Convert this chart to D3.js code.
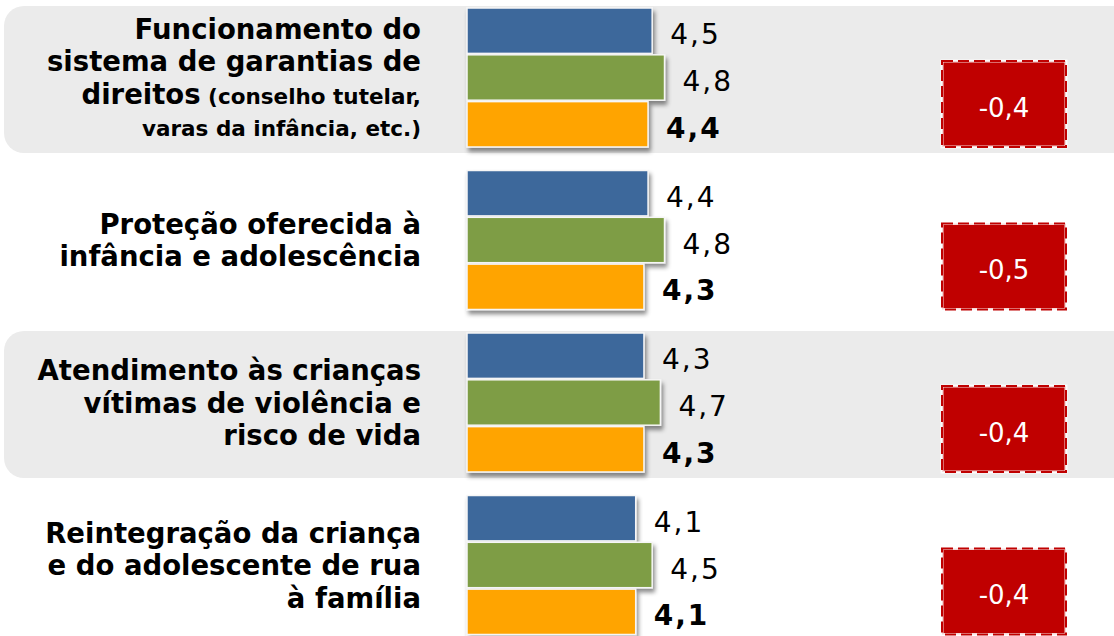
<!DOCTYPE html>
<html>
<head>
<meta charset="utf-8">
<script src="https://cdn.jsdelivr.net/npm/d3@7"></script>
<style>
  html, body { margin: 0; padding: 0; background: #ffffff; }
  svg { display: block; }
</style>
</head>
<body>
<svg id="chart" width="1114" height="636"></svg>
<script>
// Category labels, split into the lines in which they are printed
const labelLines = [
  ["Funcionamento do", "sistema de garantias de", "direitos"],
  ["Proteção oferecida à", "infância e adolescência"],
  ["Atendimento às crianças", "vítimas de violência e", "risco de vida"],
  ["Reintegração da criança", "e do adolescente de rua", "à família"]
];
// Smaller explanatory note that follows a label
const noteLines = [
  ["(conselho tutelar,", "varas da infância, etc.)"],
  [],
  [],
  []
];
const categories = ["garantias", "protecao", "atendimento", "reintegracao"];
const seriesKeys = ["serieA", "serieB", "serieC"];

const serieA = [4.5, 4.4, 4.3, 4.1];
const serieB = [4.8, 4.8, 4.7, 4.5];
const serieC = [4.4, 4.3, 4.3, 4.1];
const differences = [-0.4, -0.5, -0.4, -0.4];

const colors = { serieA: "#3D679B", serieB: "#7E9D44", serieC: "#FFA405" };

const rows = categories.map((c, i) => ({
  key: c,
  values: [
    { key: "serieA", value: serieA[i] },
    { key: "serieB", value: serieB[i] },
    { key: "serieC", value: serieC[i] }
  ],
  diff: differences[i],
  lines: labelLines[i],
  notes: noteLines[i]
}));

const svg = d3.select("#chart");
const W = 1114;

const defs = svg.append("defs");
const shadow = defs.append("filter").attr("id", "barShadow")
  .attr("x", "-10%").attr("y", "-10%").attr("width", "130%").attr("height", "140%");
shadow.append("feDropShadow")
  .attr("dx", 2).attr("dy", 4).attr("stdDeviation", 2.2)
  .attr("flood-color", "#000").attr("flood-opacity", 0.45);

// Scales
const groupH = 139, step = 162.5;
const y0 = d3.scaleBand()
  .domain(categories)
  .range([8, 8 + 3 * step + groupH])
  .paddingInner((step - groupH) / step)
  .paddingOuter(0);
const y1 = d3.scaleBand()
  .domain(seriesKeys)
  .range([0, y0.bandwidth()])
  .paddingInner(0.03);
const x = d3.scaleLinear().domain([0, 1]).range([467, 467 + 41.15]);

// Decimal comma, plain hyphen for negatives
const fmt = v => d3.format(".1f")(v).replace(".", ",").replace("\u2212", "-");

const groups = svg.selectAll("g.row")
  .data(rows)
  .join("g")
  .attr("class", "row")
  .attr("transform", d => `translate(0,${y0(d.key)})`);

// Alternate grey bands with rounded left corners
groups.filter((d, i) => i % 2 === 0)
  .append("rect")
  .attr("x", 4).attr("y", -2)
  .attr("width", W + 40).attr("height", groupH + 8)
  .attr("rx", 20).attr("ry", 20)
  .attr("fill", "#EBEBEB");

// Category labels
groups.each(function(d) {
  const g = d3.select(this);
  const lineH = 32.5;
  const total = d.lines.length + Math.max(0, d.notes.length - 1);
  const first = groupH / 2 - (total - 1) * lineH / 2 + 10;
  const t = g.append("text")
    .attr("text-anchor", "end")
    .attr("font-family", "'DejaVu Sans', Verdana, sans-serif")
    .attr("font-weight", "bold")
    .attr("fill", "#000");
  let n = 0;
  d.lines.forEach((ln, k) => {
    t.append("tspan").attr("x", 421).attr("y", first + n * lineH)
      .attr("font-size", 27.5).text(ln);
    n++;
    if (k === d.lines.length - 1 && d.notes.length) {
      t.append("tspan").attr("font-size", 21.5).text(" " + d.notes[0]);
      d.notes.slice(1).forEach(nl => {
        t.append("tspan").attr("x", 421).attr("y", first + n * lineH)
          .attr("font-size", 21.5).text(nl);
        n++;
      });
    }
  });
});

// Bars
groups.selectAll("rect.bar")
  .data(d => d.values)
  .join("rect")
  .attr("class", "bar")
  .attr("x", x(0))
  .attr("y", d => y1(d.key))
  .attr("width", d => x(d.value) - x(0))
  .attr("height", y1.bandwidth())
  .attr("fill", d => colors[d.key])
  .attr("stroke", "#f6f6f6")
  .attr("stroke-width", 1.5)
  .attr("filter", "url(#barShadow)");

// Value labels
groups.selectAll("text.val")
  .data(d => d.values)
  .join("text")
  .attr("class", "val")
  .attr("x", d => x(d.value) + 18)
  .attr("y", d => y1(d.key) + y1.bandwidth() / 2 + 13.5)
  .attr("font-family", "'DejaVu Sans', Verdana, sans-serif")
  .attr("font-size", 28)
  .attr("letter-spacing", 2)
  .attr("font-weight", d => d.key === "serieC" ? "bold" : "normal")
  .attr("fill", "#000")
  .text(d => fmt(d.value));

// Difference boxes
const boxX = 942, boxW = 124, boxY = 53, boxH = 86;
groups.append("rect")
  .attr("x", boxX).attr("y", boxY)
  .attr("width", boxW).attr("height", boxH)
  .attr("fill", "#C00000")
  .attr("stroke", "#ffffff")
  .attr("stroke-width", 3)
  .attr("stroke-opacity", 0.85);
groups.append("rect")
  .attr("x", boxX).attr("y", boxY)
  .attr("width", boxW).attr("height", boxH)
  .attr("fill", "none")
  .attr("stroke", "#C00000")
  .attr("stroke-width", 2)
  .attr("stroke-dasharray", "11,5");
groups.append("text")
  .attr("x", boxX + boxW / 2)
  .attr("y", boxY + boxH / 2 + 12.5)
  .attr("text-anchor", "middle")
  .attr("font-family", "'DejaVu Sans', Verdana, sans-serif")
  .attr("font-size", 26)
  .attr("fill", "#ffffff")
  .text(d => fmt(d.diff));
</script>
</body>
</html>
